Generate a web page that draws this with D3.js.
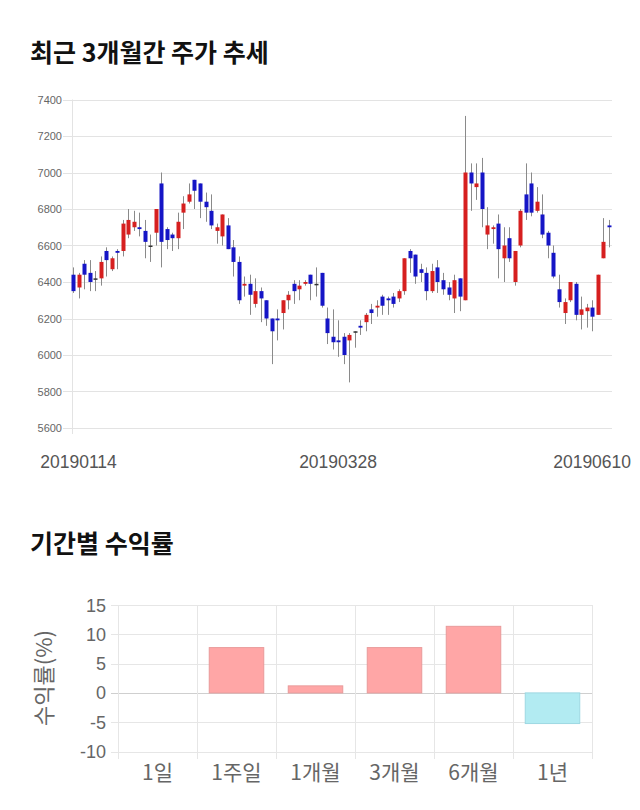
<!DOCTYPE html>
<html><head><meta charset="utf-8">
<script src="https://cdn.jsdelivr.net/npm/d3@7/dist/d3.min.js"></script>
<style>
body{margin:0;background:#fff;}
svg{display:block;}
</style></head>
<body><svg id="c" width="640" height="810"></svg>
<script>
// ---- data ----
const opens  = [6440,6370,6500,6450,6420,6420,6570,6470,6570,6570,6660,6700,6700,6680,6600,6670,6940,6690,6660,6640,6780,6840,6960,6940,6840,6790,6680,6650,6710,6590,6510,6380,6390,6280,6350,6300,6200,6200,6230,6300,6390,6360,6390,6440,6390,6450,6200,6100,6080,6100,6080,6130,6160,6180,6250,6260,6320,6310,6320,6310,6350,6570,6550,6470,6450,6350,6480,6410,6370,6310,6420,6300,7000,6920,7000,6660,6690,6720,6530,6640,6400,6600,6880,6940,6790,6770,6670,6560,6360,6230,6300,6390,6220,6240,6260,6220,6530,6710];
const highs  = [6480,6450,6520,6520,6460,6540,6590,6540,6580,6740,6800,6790,6780,6740,6660,6800,7000,6700,6670,6780,6870,6940,6960,6940,6890,6880,6720,6770,6750,6630,6540,6430,6440,6420,6370,6300,6200,6250,6300,6350,6410,6410,6410,6440,6480,6450,6260,6250,6190,6120,6120,6130,6190,6230,6280,6300,6330,6320,6340,6360,6530,6580,6550,6500,6480,6500,6520,6450,6400,6440,6420,7310,7050,7050,7080,6810,6710,6770,6700,6700,6570,6800,7050,7000,6920,6880,6680,6600,6440,6310,6400,6400,6320,6280,6300,6440,6750,6740];
const lows   = [6340,6310,6360,6350,6350,6380,6430,6460,6470,6540,6640,6680,6650,6530,6510,6600,6480,6580,6570,6580,6690,6830,6800,6750,6730,6690,6610,6600,6580,6430,6280,6320,6220,6260,6180,6160,5950,6080,6140,6250,6280,6300,6380,6300,6320,6260,6060,6030,5990,5950,5850,6040,6110,6130,6170,6210,6220,6220,6260,6290,6330,6450,6390,6400,6300,6340,6340,6330,6300,6230,6240,6300,6790,6850,6700,6580,6610,6420,6400,6510,6380,6590,6740,6760,6780,6640,6530,6420,6260,6170,6290,6190,6140,6150,6130,6220,6530,6590];
const closes = [6350,6440,6440,6400,6420,6510,6520,6530,6560,6720,6740,6730,6690,6620,6600,6800,6620,6630,6640,6730,6830,6880,6900,6840,6810,6710,6700,6770,6580,6510,6300,6390,6330,6350,6310,6200,6130,6190,6300,6330,6350,6380,6400,6390,6390,6270,6120,6070,6070,6000,6110,6130,6150,6220,6230,6270,6270,6300,6280,6350,6530,6530,6430,6450,6350,6460,6400,6360,6330,6410,6320,7000,6940,6940,6800,6710,6700,6580,6600,6530,6570,6790,6780,6780,6840,6660,6600,6430,6290,6290,6400,6220,6250,6260,6210,6440,6620,6700];
const priceTicks = [5600,5800,6000,6200,6400,6600,6800,7000,7200,7400];
const dateLabels = ["20190114","20190328","20190610"];
const dateLabelIndex = [1,48,94];

const periods = ["1일","1주일","1개월","3개월","6개월","1년"];
const returns = [0,7.73,1.2,7.73,11.36,-5.23];
const returnTicks = [-10,-5,0,5,10,15];

const svg = d3.select("#c");
const KR = "'Noto Sans CJK KR','Noto Sans',sans-serif";
const NUM = "'Liberation Sans',Arial,sans-serif";

// ---- titles ----
svg.append("text").attr("x",30).attr("y",62).text("최근 3개월간 주가 추세")
  .attr("font-family",KR).attr("font-weight","bold").attr("font-size",25).attr("fill","#111");
svg.append("text").attr("x",30).attr("y",553).text("기간별 수익률")
  .attr("font-family",KR).attr("font-weight","bold").attr("font-size",25).attr("fill","#111");

// ---- candlestick chart ----
const n = opens.length;
const L = 73, R = 612, T = 99.5, B = 428;
const x = d3.scaleLinear().domain([0, n-1]).range([73, 608.7]);
const y = d3.scaleLinear().domain([5600,7400]).range([B, T]);

const g1 = svg.append("g");
g1.selectAll("line.hg").data(priceTicks).join("line")
  .attr("x1",63).attr("x2",R).attr("y1",d=>Math.round(y(d))+0.5).attr("y2",d=>Math.round(y(d))+0.5)
  .attr("stroke","#e3e3e3").attr("stroke-width",1);
g1.append("line").attr("x1",L-0.5).attr("x2",L-0.5).attr("y1",T).attr("y2",B+6)
  .attr("stroke","#e3e3e3");
g1.selectAll("text.yl").data(priceTicks).join("text")
  .attr("x",62).attr("y",d=>y(d)+4).attr("text-anchor","end")
  .attr("font-family",NUM).attr("font-size",11).attr("fill","#666").text(d=>d);
g1.selectAll("text.xl").data(dateLabels).join("text")
  .attr("x",(d,i)=>x(dateLabelIndex[i])).attr("y",467.5).attr("text-anchor","middle")
  .attr("font-family",NUM).attr("font-size",17.5).attr("fill","#555").text(d=>d);

const idx = d3.range(n);
const up = i => closes[i] > opens[i];
const dn = i => closes[i] < opens[i];
g1.selectAll("line.w").data(idx).join("line")
  .attr("x1",i=>Math.round(x(i))+0.5).attr("x2",i=>Math.round(x(i))+0.5)
  .attr("y1",i=>y(highs[i])).attr("y2",i=>y(lows[i]))
  .attr("stroke","#8a8a8a").attr("stroke-width",1);
const bw = 4;
g1.selectAll("rect.b").data(idx).join("rect")
  .attr("x",i=>Math.round(x(i))+0.5-bw/2).attr("width",bw)
  .attr("y",i=>y(Math.max(opens[i],closes[i])))
  .attr("height",i=>Math.max(1.5, Math.abs(y(opens[i])-y(closes[i]))))
  .attr("fill",i=>up(i)?"#d61f1f":dn(i)?"#1515c6":"#333");

// ---- returns bar chart ----
const L2 = 118, R2 = 592;
const x2 = d3.scaleBand().domain(periods).range([L2,R2]);
const y2 = d3.scaleLinear().domain([-10,15]).range([751.5,605]);
const g2 = svg.append("g");
g2.selectAll("line.hg2").data(returnTicks).join("line")
  .attr("x1",111).attr("x2",R2).attr("y1",d=>Math.round(y2(d))+0.5).attr("y2",d=>Math.round(y2(d))+0.5)
  .attr("stroke",d=>d===0?"#cfcfcf":"#e6e6e6");
const bounds = periods.map(p=>x2(p)).concat([R2]);
g2.selectAll("line.vg2").data(bounds).join("line")
  .attr("x1",d=>Math.round(d)+0.5).attr("x2",d=>Math.round(d)+0.5)
  .attr("y1",605).attr("y2",759).attr("stroke","#e6e6e6");
g2.selectAll("text.yl2").data(returnTicks).join("text")
  .attr("x",106).attr("y",d=>y2(d)+6.5).attr("text-anchor","end")
  .attr("font-family",NUM).attr("font-size",18).attr("fill","#666").text(d=>d);
g2.selectAll("text.xl2").data(periods).join("text")
  .attr("x",d=>x2(d)+x2.bandwidth()/2).attr("y",780).attr("text-anchor","middle")
  .attr("font-family",KR).attr("font-size",21).attr("fill","#666").text(d=>d);
g2.append("text").attr("transform","translate(52,678) rotate(-90)")
  .attr("text-anchor","middle").attr("font-family",KR).attr("font-size",22).attr("fill","#666")
  .text("수익률(%)");
const barW = x2.bandwidth()*0.69;
g2.selectAll("rect.r").data(periods.map((p,i)=>({p,v:returns[i]})).filter(d=>d.v!==0)).join("rect")
  .attr("x",d=>x2(d.p)+(x2.bandwidth()-barW)/2).attr("width",barW)
  .attr("y",d=>y2(Math.max(0,d.v))).attr("height",d=>Math.abs(y2(d.v)-y2(0)))
  .attr("fill",d=>d.v>0?"#ffa6a6":"#b2ebf2")
  .attr("stroke",d=>d.v>0?"#e99a9a":"#9ed8e2").attr("stroke-width",1);
</script></body></html>
